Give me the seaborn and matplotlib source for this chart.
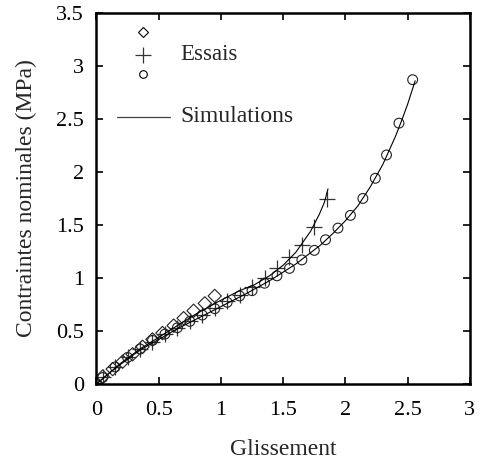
import numpy as np
import pandas as pd
import matplotlib
matplotlib.use("Agg")
import matplotlib.pyplot as plt
import seaborn as sns

# ---- data ----
diamond_x = [0.05, 0.13, 0.21, 0.29, 0.37, 0.45, 0.53, 0.62, 0.70, 0.78, 0.87, 0.95]
diamond_y = [0.07, 0.14, 0.21, 0.28, 0.35, 0.42, 0.48, 0.55, 0.62, 0.69, 0.76, 0.83]

plus_x = [0.05, 0.15, 0.25, 0.35, 0.45, 0.55, 0.65, 0.75, 0.85, 0.95, 1.05, 1.15,
          1.25, 1.35, 1.45, 1.55, 1.65, 1.75, 1.85]
plus_y = [0.07, 0.16, 0.25, 0.33, 0.40, 0.47, 0.53, 0.59, 0.65, 0.72, 0.78, 0.84,
          0.91, 1.00, 1.09, 1.20, 1.31, 1.48, 1.74]

circle_x = [0.0, 0.05, 0.15, 0.25, 0.35, 0.45, 0.55, 0.65, 0.75, 0.85, 0.95, 1.05,
            1.15, 1.25, 1.35, 1.45, 1.55, 1.65, 1.75, 1.84, 1.94, 2.04, 2.14,
            2.24, 2.33, 2.43, 2.54]
circle_y = [0.0, 0.06, 0.16, 0.25, 0.33, 0.41, 0.47, 0.53, 0.59, 0.65, 0.71, 0.77,
            0.83, 0.88, 0.95, 1.02, 1.09, 1.17, 1.26, 1.36, 1.47, 1.59, 1.75,
            1.94, 2.16, 2.46, 2.87]

sim1_x = [0.0, 0.1, 0.2, 0.35, 0.5, 0.65, 0.8, 1.0, 1.15, 1.26, 1.39, 1.5, 1.6,
          1.66, 1.72, 1.79, 1.83, 1.86]
sim1_y = [0.0, 0.10, 0.20, 0.33, 0.44, 0.55, 0.66, 0.79, 0.88, 0.93, 1.02, 1.12,
          1.24, 1.34, 1.44, 1.60, 1.71, 1.84]

sim2_x = [0.0, 0.1, 0.2, 0.35, 0.5, 0.65, 0.8, 1.0, 1.2, 1.4, 1.6, 1.8, 1.9, 2.0,
          2.1, 2.2, 2.3, 2.4, 2.45, 2.5, 2.56]
sim2_y = [0.0, 0.10, 0.19, 0.32, 0.42, 0.52, 0.61, 0.73, 0.85, 0.98, 1.13, 1.31,
          1.42, 1.54, 1.68, 1.86, 2.07, 2.33, 2.48, 2.64, 2.86]

x_ticks = [0, 0.5, 1, 1.5, 2, 2.5, 3]
x_ticklabels = ["0", "0.5", "1", "1.5", "2", "2.5", "3"]
y_ticks = [0, 0.5, 1, 1.5, 2, 2.5, 3, 3.5]
y_ticklabels = ["0", "0.5", "1", "1.5", "2", "2.5", "3", "3.5"]

# ---- style ----
sns.set_style("ticks")
plt.rcParams['font.family'] = ['Liberation Serif', 'Times New Roman', 'Nimbus Roman',
                               'STIXGeneral', 'DejaVu Serif']
plt.rcParams['mathtext.fontset'] = 'stix'

fig = plt.figure(figsize=(4.8, 4.62), dpi=100)
ax = fig.add_axes([0.201, 0.169, 0.778, 0.803])

sim = pd.concat([
    pd.DataFrame({"x": sim1_x, "y": sim1_y, "s": "a"}),
    pd.DataFrame({"x": sim2_x, "y": sim2_y, "s": "b"}),
])
sns.lineplot(data=sim, x="x", y="y", units="s", estimator=None, sort=False,
             color="black", linewidth=0.8, ax=ax, legend=False)

sns.scatterplot(x=diamond_x, y=diamond_y, marker="D", s=46, facecolor="none",
                edgecolor="#222222", linewidth=0.8, ax=ax, legend=False)
sns.scatterplot(x=plus_x, y=plus_y, marker="+", s=140, color="#333333",
                linewidth=0.9, ax=ax, legend=False)
sns.scatterplot(x=circle_x, y=circle_y, marker="o", s=50, facecolor="none",
                edgecolor="#222222", linewidth=0.8, ax=ax, legend=False)

ax.set_xlim(0, 3)
ax.set_ylim(0, 3.5)
ax.set_xticks(x_ticks)
ax.set_xticklabels(x_ticklabels)
ax.set_yticks(y_ticks)
ax.set_yticklabels(y_ticklabels)
ax.tick_params(direction="in", length=5, width=1.2, labelsize=16,
               top=True, right=True, colors="black")
ax.tick_params(axis="x", pad=12)
ax.tick_params(axis="y", pad=9)
for sp in ax.spines.values():
    sp.set_linewidth(1.8)
    sp.set_color("black")
    sp.set_visible(True)

ax.set_xlabel("Glissement", fontsize=17, labelpad=14)
ax.set_ylabel("Contraintes nominales (MPa)", fontsize=17, labelpad=14)

# ---- in-plot legend ----
tr = ax.transAxes
ax.plot([0.1245], [0.949], transform=tr, marker="D", ms=5, mfc="none",
        mec="black", mew=0.8, ls="none")
ax.plot([0.1245], [0.887], transform=tr, marker="+", ms=11, color="#333333",
        mew=0.9, ls="none")
ax.plot([0.1245], [0.836], transform=tr, marker="o", ms=5.5, mfc="none",
        mec="black", mew=0.8, ls="none")
ax.text(0.2235, 0.887, "Essais", transform=tr, fontsize=16.5, va="center", ha="left")
ax.plot([0.055, 0.197], [0.72, 0.72], transform=tr, color="#444444", lw=0.9)
ax.text(0.2235, 0.72, "Simulations", transform=tr, fontsize=17, va="center", ha="left")

fig.savefig("out.png", dpi=100, facecolor="white")
